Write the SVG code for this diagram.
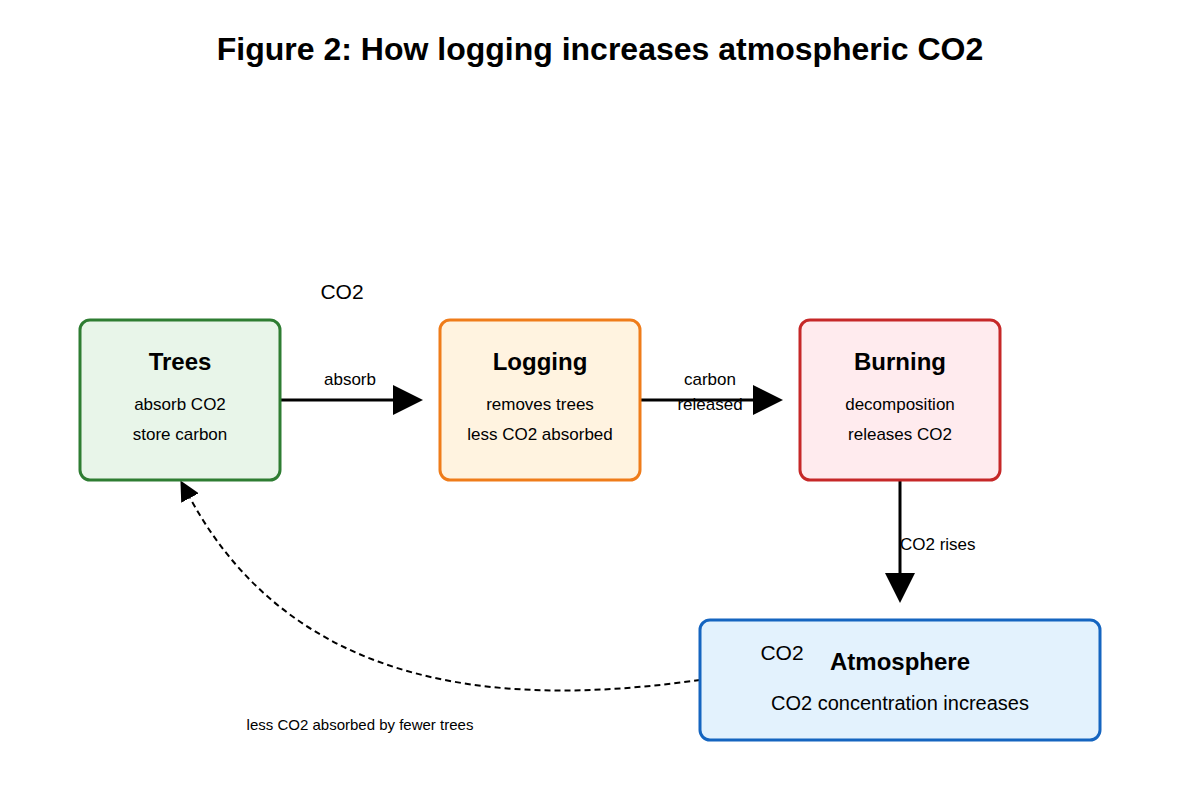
<svg xmlns="http://www.w3.org/2000/svg" width="1200" height="800" viewBox="0 0 1200 800">
<style>
text{font-family:"Liberation Sans",Arial,sans-serif;fill:#000}
.t{font-size:24px;font-weight:bold;text-anchor:middle}
.s{font-size:17px;text-anchor:middle}
.l{font-size:17px;text-anchor:middle}
.box{stroke-width:3}
</style>
<defs>
<marker id="ah" markerWidth="10" markerHeight="10" refX="0" refY="5" orient="auto" markerUnits="userSpaceOnUse" viewBox="0 0 10 10"><path d="M0,0L10,5L0,10Z" fill="#000"/></marker>
<marker id="big" viewBox="0 0 30 30" markerWidth="30" markerHeight="30" refX="0" refY="15" orient="auto" markerUnits="userSpaceOnUse"><path d="M0,0L30,15L0,30Z" fill="#000"/></marker>
<marker id="sm" viewBox="0 0 20 20" markerWidth="20" markerHeight="20" refX="0" refY="10" orient="auto" markerUnits="userSpaceOnUse"><path d="M0,0L20,10L0,20Z" fill="#000"/></marker>
</defs>
<rect width="1200" height="800" fill="#fff"/>
<text x="600" y="60" style="font-size:32px;font-weight:bold;text-anchor:middle">Figure 2: How logging increases atmospheric CO2</text>
<g id="connectors" stroke="#000" fill="none">
<path d="M280,400H393" stroke-width="3" marker-end="url(#big)"/>
<path d="M640,400H753" stroke-width="3" marker-end="url(#big)"/>
<path d="M900,480V573" stroke-width="3" marker-end="url(#big)"/>
<path d="M700,680C520,705 300,700 190,498" stroke-width="2" stroke-dasharray="6,4" marker-end="url(#sm)"/>
</g>
<g id="labels">
<text x="342" y="299" style="font-size:21px;text-anchor:middle">CO2</text>
<text x="350" y="385" class="l">absorb</text>
<text x="710" y="385" class="l">carbon</text>
<text x="710" y="410" class="l">released</text>
<text x="900" y="550" style="font-size:17px">CO2 rises</text>
<text x="360" y="730" style="font-size:15px;text-anchor:middle">less CO2 absorbed by fewer trees</text>
</g>
<g id="trees">
<rect x="80" y="320" width="200" height="160" rx="10" class="box" fill="#e8f5e9" stroke="#2e7d32"/>
<text x="180" y="370" class="t">Trees</text>
<text x="180" y="410" class="s">absorb CO2</text>
<text x="180" y="440" class="s">store carbon</text>
</g>
<g id="logging">
<rect x="440" y="320" width="200" height="160" rx="10" class="box" fill="#fff3e0" stroke="#ef7c1a"/>
<text x="540" y="370" class="t">Logging</text>
<text x="540" y="410" class="s">removes trees</text>
<text x="540" y="440" class="s">less CO2 absorbed</text>
</g>
<g id="burning">
<rect x="800" y="320" width="200" height="160" rx="10" class="box" fill="#ffebee" stroke="#c62828"/>
<text x="900" y="370" class="t">Burning</text>
<text x="900" y="410" class="s">decomposition</text>
<text x="900" y="440" class="s">releases CO2</text>
</g>
<g id="atmosphere">
<rect x="700" y="620" width="400" height="120" rx="10" class="box" fill="#e3f2fd" stroke="#1565c0"/>
<text x="900" y="670" class="t">Atmosphere</text>
<text x="782" y="660" style="font-size:21px;text-anchor:middle">CO2</text>
<text x="900" y="710" style="font-size:20px;text-anchor:middle">CO2 concentration increases</text>
</g>
</svg>
